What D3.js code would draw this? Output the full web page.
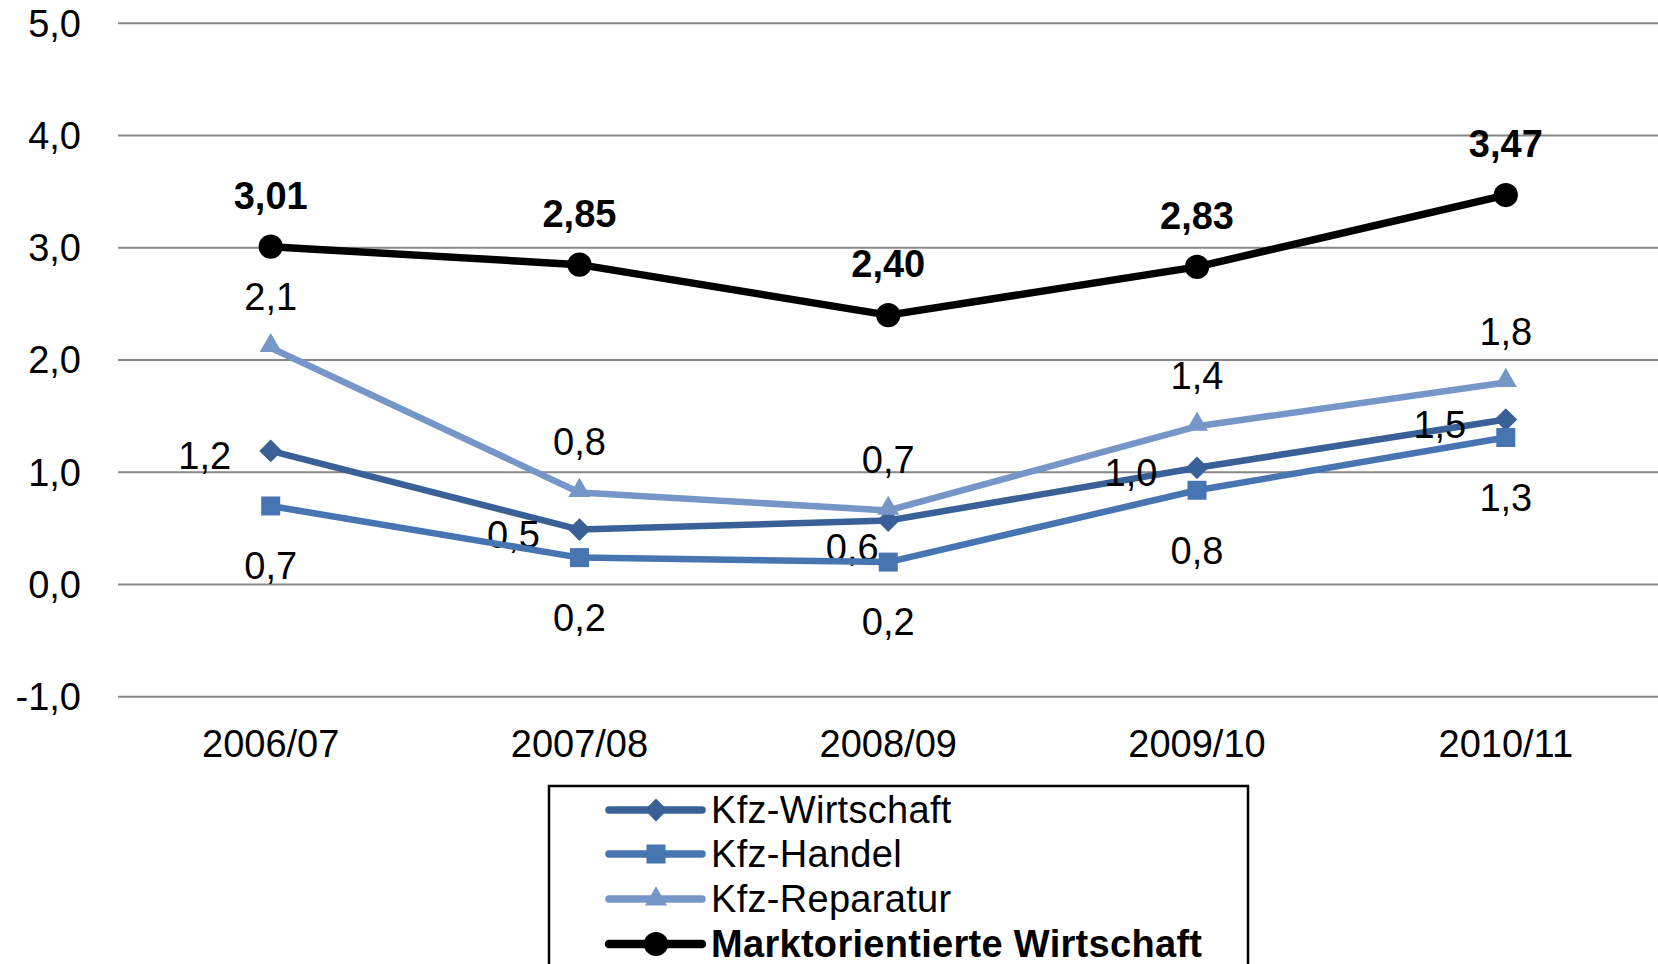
<!DOCTYPE html>
<html>
<head>
<meta charset="utf-8">
<script src="https://cdn.jsdelivr.net/npm/d3@7"></script>
<style>
  body { margin: 0; background: #fff; }
  svg text { font-family: "Liberation Sans", Arial, sans-serif; }
</style>
</head>
<body>
<svg id="chart" width="1658" height="964"></svg>
<script>
// data
var categories = ["2006/07", "2007/08", "2008/09", "2009/10", "2010/11"];
var yTicks = [-1, 0, 1, 2, 3, 4, 5];
var seriesNames = ["Kfz-Wirtschaft", "Kfz-Handel", "Kfz-Reparatur", "Marktorientierte Wirtschaft"];
var wirtschaft = [1.19, 0.49, 0.57, 1.04, 1.47];
var handel = [0.70, 0.24, 0.20, 0.84, 1.31];
var reparatur = [2.11, 0.82, 0.66, 1.41, 1.80];
var markt = [3.01, 2.85, 2.40, 2.83, 3.47];

var W = 1658, H = 964;
var svg = d3.select("#chart");

var x = d3.scalePoint()
    .domain(categories)
    .range([270.7, 1505.8]);

var y = d3.scaleLinear()
    .domain([-1, 5])
    .range([696.8, 23.3]);

var fmt1 = function(v) { return d3.format(".1f")(v).replace(".", ",").replace("\u2212", "-"); };
var fmt2 = function(v) { return d3.format(".2f")(v).replace(".", ","); };

// gridlines
svg.append("g")
    .selectAll("line")
    .data(yTicks)
    .enter()
    .append("line")
    .attr("x1", 118)
    .attr("x2", W)
    .attr("y1", function(d) { return y(d); })
    .attr("y2", function(d) { return y(d); })
    .style("stroke", "#878787")
    .style("stroke-width", 2);

// y labels
svg.append("g")
    .selectAll("text")
    .data(yTicks)
    .enter()
    .append("text")
    .attr("x", 81)
    .attr("y", function(d) { return y(d); })
    .attr("dy", "0.35em")
    .attr("text-anchor", "end")
    .style("font-size", "38px")
    .text(function(d) { return fmt1(d); });

// x labels
svg.append("g")
    .selectAll("text")
    .data(categories)
    .enter()
    .append("text")
    .attr("x", function(d) { return x(d); })
    .attr("y", 744)
    .attr("dy", "0.35em")
    .attr("text-anchor", "middle")
    .style("font-size", "38px")
    .text(function(d) { return d; });

var series = [
    { name: seriesNames[0], values: wirtschaft, color: "#3A6197", width: 6.5, symbol: d3.symbolDiamond2, size: 330, label: "left", bold: false },
    { name: seriesNames[1], values: handel, color: "#4775B2", width: 6.5, symbol: d3.symbolSquare2, size: 460, label: "below", bold: false },
    { name: seriesNames[2], values: reparatur, color: "#7796C8", width: 6.5, symbol: d3.symbolTriangle2, size: 350, label: "above", bold: false },
    { name: seriesNames[3], values: markt, color: "#000000", width: 7.5, symbol: d3.symbolCircle, size: 460, label: "above", bold: true }
];

var line = d3.line()
    .x(function(d, i) { return x(categories[i]); })
    .y(function(d) { return y(d); });

series.forEach(function(s) {
    var g = svg.append("g");

    g.append("path")
        .datum(s.values)
        .attr("d", line)
        .style("fill", "none")
        .style("stroke", s.color)
        .style("stroke-width", s.width)
        .style("stroke-linejoin", "round");

    g.selectAll("path.marker")
        .data(s.values)
        .enter()
        .append("path")
        .attr("class", "marker")
        .attr("d", d3.symbol().type(s.symbol).size(s.size))
        .attr("transform", function(d, i) {
            var ty = y(d);
            if (s.symbol === d3.symbolTriangle2) ty -= 2;
            return "translate(" + x(categories[i]) + "," + ty + ")";
        })
        .style("fill", s.color);

    g.selectAll("text")
        .data(s.values)
        .enter()
        .append("text")
        .attr("x", function(d, i) {
            if (s.label !== "left") return x(categories[i]);
            // the 2008/09 label sits lower, nearer the point
            return x(categories[i]) - (i === 2 ? 36 : 66);
        })
        .attr("y", function(d, i) {
            if (s.label === "above") return y(d) - 51;
            if (s.label === "below") return y(d) + 60;
            return y(d) + (i === 2 ? 27 : 5);
        })
        .attr("dy", "0.35em")
        .attr("text-anchor", "middle")
        .style("font-size", "38px")
        .style("font-weight", s.bold ? "bold" : "normal")
        .text(function(d) { return s.bold ? fmt2(d) : fmt1(d); });
});

// legend
var legend = svg.append("g");

legend.append("rect")
    .attr("x", 549)
    .attr("y", 786)
    .attr("width", 699)
    .attr("height", 200)
    .style("fill", "#fff")
    .style("stroke", "#000")
    .style("stroke-width", 2.5);

var rowY = [810, 854, 899, 944];

series.forEach(function(s, i) {
    var ly = rowY[i];
    legend.append("line")
        .attr("x1", 609)
        .attr("x2", 702)
        .attr("y1", ly)
        .attr("y2", ly)
        .style("stroke", s.color)
        .style("stroke-width", s.width + 1)
        .style("stroke-linecap", "round");
    legend.append("path")
        .attr("d", d3.symbol().type(s.symbol).size(s.size))
        .attr("transform", "translate(656," + ly + ")")
        .style("fill", s.color);
    legend.append("text")
        .attr("x", 711)
        .attr("y", ly)
        .attr("dy", "0.35em")
        .style("font-size", "38px")
        .style("letter-spacing", "0.3px")
        .style("font-weight", s.bold ? "bold" : "normal")
        .text(s.name);
});
</script>
</body>
</html>
